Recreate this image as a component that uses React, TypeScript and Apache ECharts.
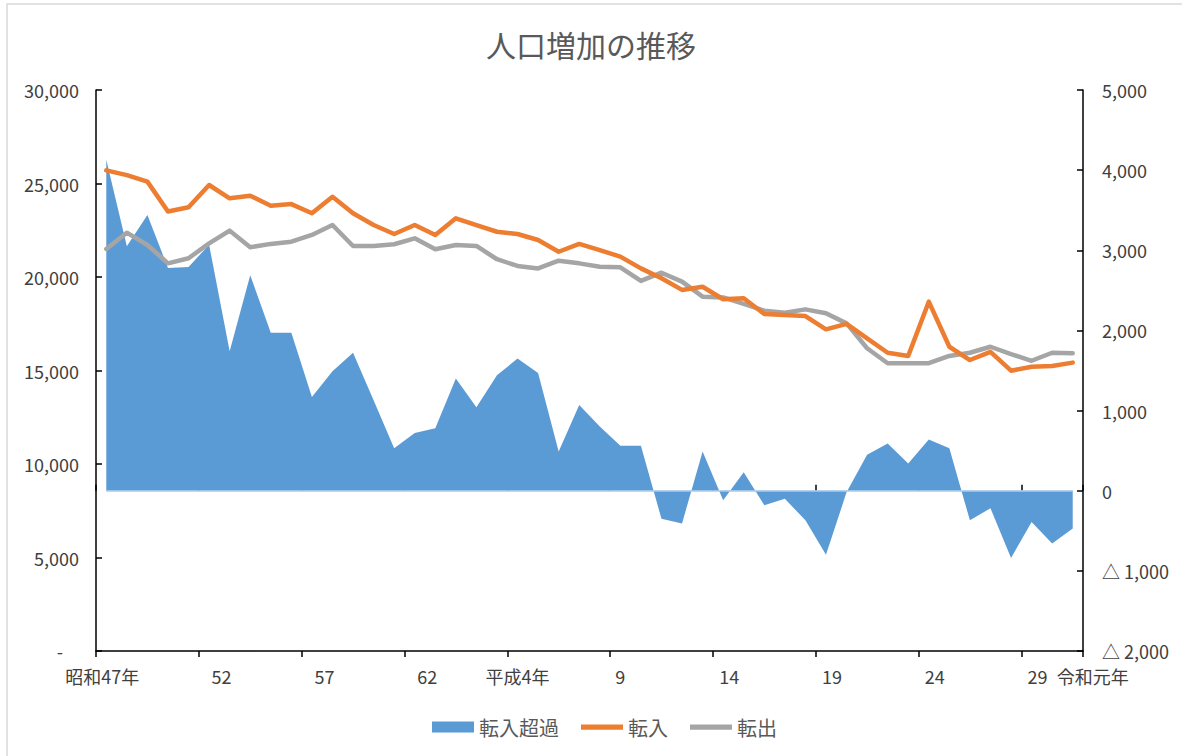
import React, { useEffect, useRef } from "react";
import * as echarts from "echarts";

// x-axis categories (昭和47年 = 1972 … 令和元年 = 2019)
const categories: string[] = [
  "昭和47年", "48", "49", "50", "51", "52", "53", "54", "55", "56",
  "57", "58", "59", "60", "61", "62", "63", "平成元年", "2", "3",
  "平成4年", "5", "6", "7", "8", "9", "10", "11", "12", "13",
  "14", "15", "16", "17", "18", "19", "20", "21", "22", "23",
  "24", "25", "26", "27", "28", "29", "30", "令和元年",
];

// 転入 (left axis)
const inflow: number[] = [
  25700, 25450, 25100, 23500, 23730, 24920, 24210, 24350, 23810, 23900,
  23410, 24290, 23410, 22780, 22300, 22780, 22250, 23140, 22780, 22420,
  22300, 21980, 21350, 21770, 21440, 21090, 20460, 19930, 19310, 19480,
  18810, 18860, 18020, 17970, 17910, 17200, 17490, 16720, 15950, 15780,
  18680, 16270, 15560, 16000, 14990, 15200, 15240, 15420,
];

// 転出 (left axis)
const outflow: number[] = [
  21500, 22370, 21710, 20730, 21000, 21800, 22480, 21590, 21770, 21890,
  22250, 22780, 21660, 21660, 21750, 22070, 21480, 21710, 21660, 20950,
  20590, 20460, 20870, 20730, 20550, 20520, 19790, 20230, 19750, 18950,
  18910, 18560, 18200, 18090, 18270, 18060, 17520, 16190, 15390, 15390,
  15390, 15780, 15950, 16270, 15880, 15520, 15950, 15920,
];

// 転入超過 (right axis)
const netInflow: number[] = [
  4130, 3050, 3440, 2780, 2790, 3070, 1740, 2690, 1970, 1970,
  1170, 1490, 1720, 1130, 530, 720, 780, 1400, 1040, 1440,
  1650, 1470, 490, 1070, 800, 560, 560, -350, -410, 490,
  -120, 230, -180, -100, -370, -800, -20, 450, 590, 340,
  640, 530, -370, -220, -840, -390, -660, -470,
];

const leftTicks = { min: 0, max: 30000, interval: 5000 };
const rightTicks = { min: -2000, max: 5000, interval: 1000 };

const FONT = "'Noto Sans CJK JP', 'Noto Sans', sans-serif";
const LABEL_COLOR = "#404040";
const XFS = 18;
const YFS = 18;

export default function App() {
  const ref = useRef<HTMLDivElement>(null);

  useEffect(() => {
    if (!ref.current) return;
    const chart = echarts.init(ref.current, undefined, { renderer: "svg" });
    const last = categories.length - 1;
    const lineIcon = "path://M0,0H40V5H0Z";

    const option: any = {
      animation: false,
      backgroundColor: "#ffffff",
      textStyle: { fontFamily: FONT },
      title: {
        text: "人口増加の推移",
        left: "center",
        top: 24,
        textStyle: { fontFamily: FONT, fontSize: 30, fontWeight: "normal", color: "#595959" },
      },
      graphic: [
        {
          type: "rect",
          silent: true,
          shape: { x: 7, y: 4, width: 1200, height: 800 },
          style: { fill: "none", stroke: "#d9d9d9", lineWidth: 1.5 },
        },
      ],
      legend: {
        top: 712,
        left: 427,
        itemWidth: 42,
        itemHeight: 11,
        itemGap: 22,
        textStyle: { fontFamily: FONT, fontSize: 20, color: "#595959" },
        data: [
          { name: "転入超過", icon: "rect", itemStyle: { color: "#5B9BD5" } },
          { name: "転入", icon: lineIcon, itemStyle: { color: "#ED7D31" } },
          { name: "転出", icon: lineIcon, itemStyle: { color: "#A5A5A5" } },
        ],
      },
      grid: { left: 96, right: 99, top: 90, bottom: 105, containLabel: false },
      xAxis: [
        {
          type: "category",
          data: categories,
          boundaryGap: true,
          axisLine: { show: true, lineStyle: { color: "#000", width: 1.5 } },
          axisTick: { show: true, interval: 4, length: 6, lineStyle: { color: "#000", width: 1.5 } },
          axisLabel: {
            interval: (i: number) => i % 5 === 0 || i === last,
            margin: 16,
            fontFamily: FONT,
            fontSize: XFS,
            color: LABEL_COLOR,
            formatter: (v: string, i: number) => {
              if (i === last) return "{z|" + v + "}";
              if (i === 0) return "{f|" + v + "}";
              if (i >= 5 && i <= 15) return "{a|" + v + "}";
              if (i >= 30) return "{b|" + v + "}";
              return v;
            },
            rich: {
              z: { fontFamily: FONT, fontSize: XFS, color: LABEL_COLOR, padding: [0, 0, 0, 40] },
              f: { fontFamily: FONT, fontSize: XFS, color: LABEL_COLOR, padding: [0, 8, 0, 0] },
              a: { fontFamily: FONT, fontSize: XFS, color: LABEL_COLOR, padding: [0, 0, 0, 25] },
              b: { fontFamily: FONT, fontSize: XFS, color: LABEL_COLOR, padding: [0, 0, 0, 12] },
            },
          },
          splitLine: { show: false },
        },
        {
          type: "category",
          data: categories,
          boundaryGap: true,
          position: "bottom",
          axisLine: { show: false },
          axisTick: { show: true, inside: true, interval: 4, length: 6, lineStyle: { color: "#000", width: 1.5 } },
          axisLabel: { show: false },
          splitLine: { show: false },
        },
      ],
      yAxis: [
        {
          type: "value",
          min: leftTicks.min,
          max: leftTicks.max,
          interval: leftTicks.interval,
          position: "left",
          axisLine: { show: true, lineStyle: { color: "#000", width: 1.5 } },
          axisTick: { show: true, inside: true, length: 6, lineStyle: { color: "#000", width: 1.5 } },
          splitLine: { show: false },
          axisLabel: {
            margin: 17,
            fontFamily: FONT,
            fontSize: YFS,
            color: LABEL_COLOR,
            formatter: (v: number) => (v === 0 ? "{d|-}" : v.toLocaleString("en-US")),
            rich: { d: { fontFamily: FONT, fontSize: YFS, color: LABEL_COLOR, padding: [0, 16, 0, 0] } },
          },
        },
        {
          type: "value",
          min: rightTicks.min,
          max: rightTicks.max,
          interval: rightTicks.interval,
          position: "right",
          axisLine: { show: true, lineStyle: { color: "#000", width: 1.5 } },
          axisTick: { show: true, inside: true, length: 6, lineStyle: { color: "#000", width: 1.5 } },
          splitLine: { show: false },
          axisLabel: {
            margin: 19,
            fontFamily: FONT,
            fontSize: YFS,
            color: LABEL_COLOR,
            formatter: (v: number) =>
              v < 0 ? "△ " + Math.abs(v).toLocaleString("en-US") : v.toLocaleString("en-US"),
          },
        },
      ],
      series: [
        {
          name: "転入超過",
          type: "line",
          xAxisIndex: 0,
          yAxisIndex: 1,
          data: netInflow,
          symbol: "none",
          itemStyle: { color: "#5B9BD5" },
          lineStyle: { width: 0, color: "#5B9BD5" },
          areaStyle: { color: "#5B9BD5", opacity: 1, origin: 0 },
          z: 1,
          markLine: {
            silent: true,
            symbol: "none",
            label: { show: false },
            lineStyle: { color: "#A9CBEA", width: 1.5, type: "solid" },
            data: [[{ coord: [categories[0], 0] }, { coord: [categories[last], 0] }]],
          },
        },
        {
          name: "転入",
          type: "line",
          xAxisIndex: 0,
          yAxisIndex: 0,
          data: inflow,
          symbol: "none",
          itemStyle: { color: "#ED7D31" },
          lineStyle: { width: 4.5, color: "#ED7D31", join: "round", cap: "round" },
          z: 3,
        },
        {
          name: "転出",
          type: "line",
          xAxisIndex: 0,
          yAxisIndex: 0,
          data: outflow,
          symbol: "none",
          itemStyle: { color: "#A5A5A5" },
          lineStyle: { width: 4.5, color: "#A5A5A5", join: "round", cap: "round" },
          z: 2,
        },
      ],
    };

    chart.setOption(option);
    return () => chart.dispose();
  }, []);

  return (
    <div
      ref={ref}
      style={{ position: "fixed", left: 0, top: 0, width: 1182, height: 756, background: "#fff" }}
    />
  );
}
